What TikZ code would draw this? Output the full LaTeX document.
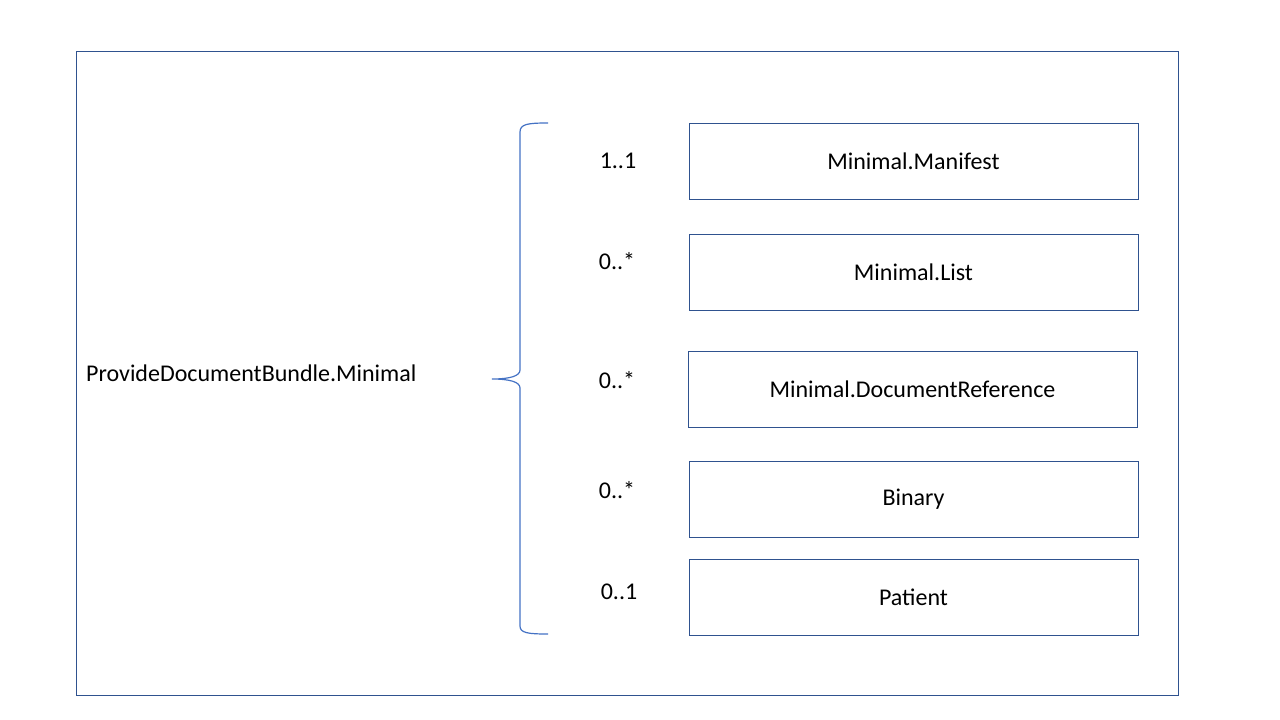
\documentclass[tikz,border=0pt]{standalone}
\usepackage{fontspec}
\setmainfont{Carlito}
\definecolor{framecol}{RGB}{47,82,143}
\definecolor{bracecol}{RGB}{68,114,196}
\tikzset{
  part/.style = {draw = framecol, line width = 1pt, minimum width = 449pt, minimum height = 76pt, inner sep = 0pt},
  card/.style = {inner sep = 0pt}
}
\begin{document}
\begin{tikzpicture}[x = 1pt, y = -1pt, align = center, font = \fontsize{24}{28}\selectfont]
        \useasboundingbox (0, 0) rectangle (1280, 720);
        \draw[framecol, line width = 1pt] (76, 51) rectangle (1178, 695);
        \node[anchor = west, inner sep = 0pt] (bundle) at (86, 373) {ProvideDocumentBundle.Minimal};
        \node[part] (manifest) at (913.5, 161) {Minimal.Manifest};
        \node[part] (list) at (913.5, 272.5) {Minimal.List};
        \node[part] (docref) at (912.5, 389) {Minimal.DocumentReference};
        \node[part] (binary) at (913.5, 499) {Binary};
        \node[part] (patient) at (913.5, 597) {Patient};
        \node[card] (c1) at (618, 161) {1..1};
        \node[card] (c2) at (617, 261) {0..*};
        \node[card] (c3) at (617, 380) {0..*};
        \node[card] (c4) at (617, 490) {0..*};
        \node[card] (c5) at (619, 592) {0..1};
        % brace
        \draw[bracecol, line width = 1.2pt] (548, 123) .. controls (528, 123) and (520, 124) .. (520, 132)
            -- (520, 370) .. controls (520, 376) and (510, 379) .. (492, 379)
            .. controls (510, 379) and (520, 382) .. (520, 388)
            -- (520, 626) .. controls (520, 633) and (528, 634) .. (548, 634);
    \end{tikzpicture}
\end{document}
